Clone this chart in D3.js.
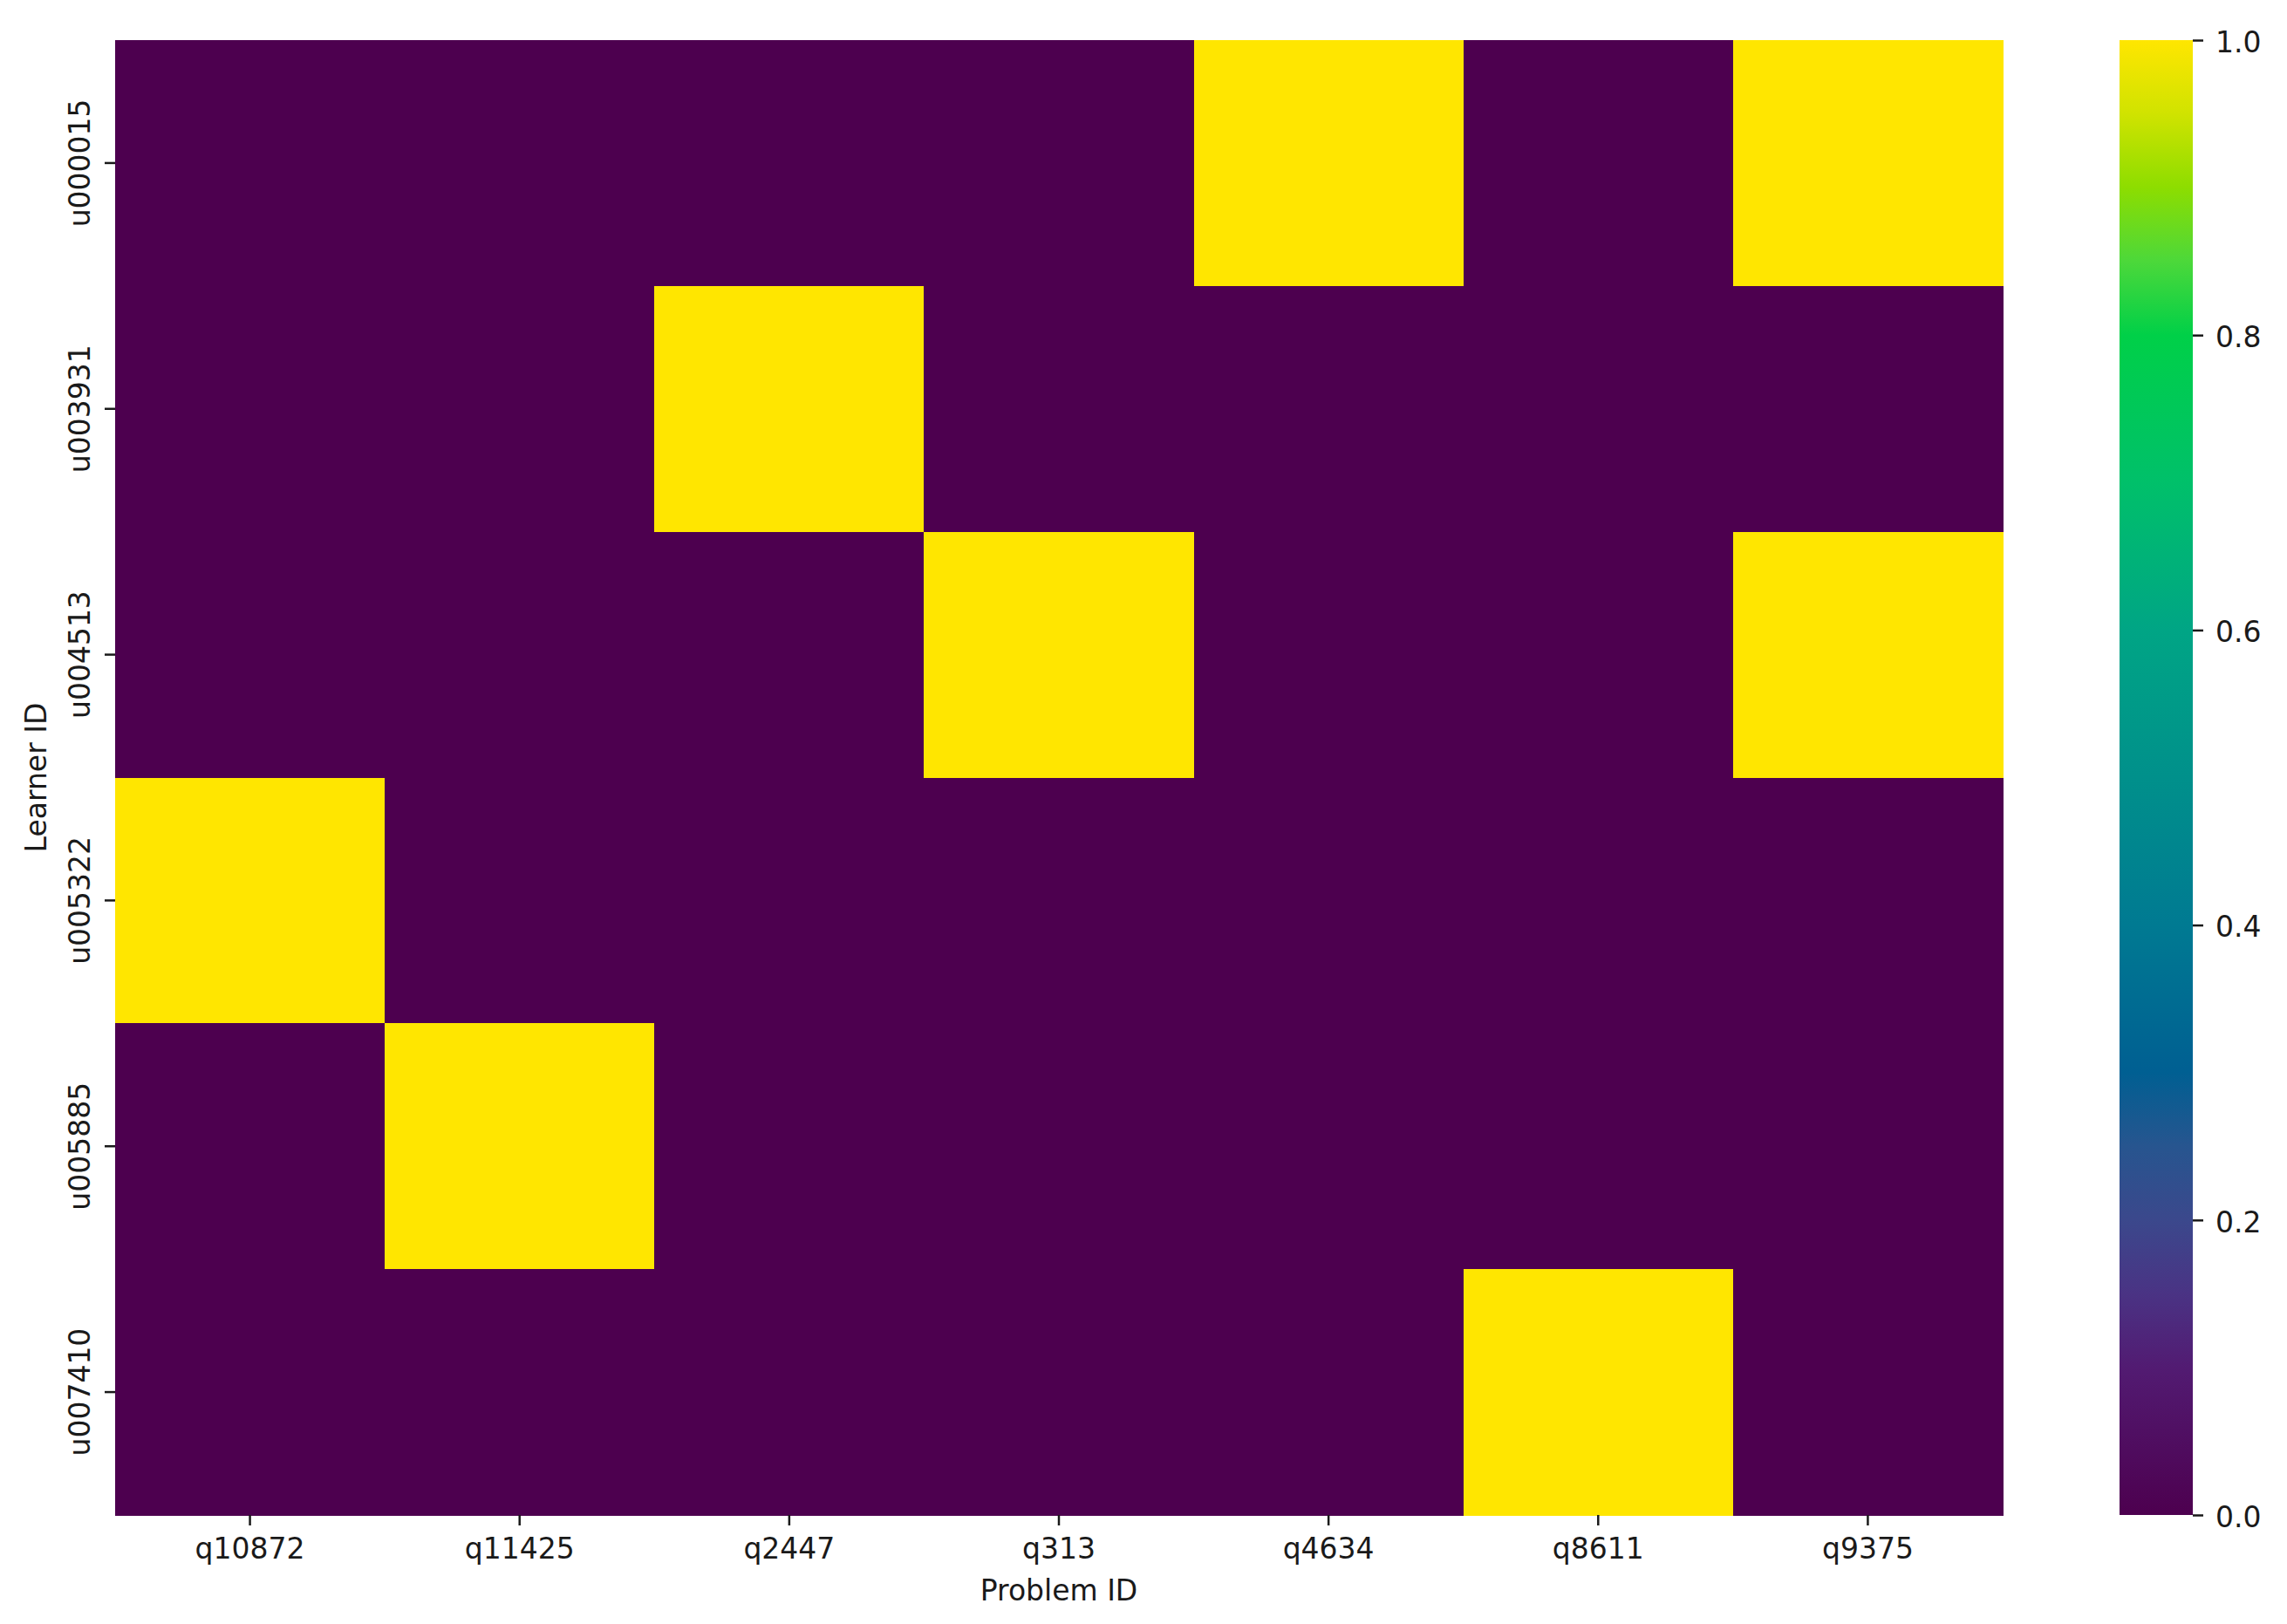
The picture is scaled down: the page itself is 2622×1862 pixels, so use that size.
<!DOCTYPE html>
<html>
<head>
<meta charset="utf-8">
<script src="https://cdn.jsdelivr.net/npm/d3@7"></script>
<style>
  html, body { margin: 0; padding: 0; background: #fff; }
  text { font-family: "DejaVu Sans", sans-serif; fill: #1a1a1a; }
</style>
</head>
<body>
<svg id="chart" width="2622" height="1862"></svg>
<script>
// ---- data ----
const learners = ["u000015", "u003931", "u004513", "u005322", "u005885", "u007410"];
const problems = ["q10872", "q11425", "q2447", "q313", "q4634", "q8611", "q9375"];
const values = [
  [0, 0, 0, 0, 1, 0, 1],
  [0, 0, 1, 0, 0, 0, 0],
  [0, 0, 0, 1, 0, 0, 1],
  [1, 0, 0, 0, 0, 0, 0],
  [0, 1, 0, 0, 0, 0, 0],
  [0, 0, 0, 0, 0, 1, 0]
];
const colorbarTicks = [0.0, 0.2, 0.4, 0.6, 0.8, 1.0];
const colorStopValues = [0.0, 0.1, 0.15, 0.2, 0.25, 0.3, 0.4, 0.5, 0.6, 0.7, 0.8, 0.85, 0.9, 0.95, 1.0];
const colorStopColors = ["#4d004f", "#521b72", "#4a3384", "#3b488c", "#27558f", "#005f92", "#007a92",
  "#00908b", "#00a585", "#00c06a", "#00d048", "#4cd83a", "#8ddd00", "#d0e300", "#ffe600"];

// ---- layout ----
const plot = { left: 132, right: 2296, top: 46, bottom: 1737 };
const cbar = { left: 2430, right: 2514 };
const fontSize = 33;

const svg = d3.select("#chart");

const x = d3.scaleBand().domain(problems).range([plot.left, plot.right]).padding(0);
const y = d3.scaleBand().domain(learners).range([plot.top, plot.bottom]).padding(0);
const color = d3.scaleLinear().domain(colorStopValues).range(colorStopColors).clamp(true);

const cells = [];
learners.forEach((l, i) => problems.forEach((p, j) => cells.push({ l, p, v: values[i][j] })));

svg.append("g").selectAll("rect").data(cells).join("rect")
  .attr("x", d => x(d.p))
  .attr("y", d => y(d.l))
  .attr("width", x.bandwidth() + 0.5)
  .attr("height", y.bandwidth() + 0.5)
  .attr("fill", d => color(d.v))
  .attr("shape-rendering", "crispEdges");

// x axis
const xAxis = d3.axisBottom(x).tickSize(12).tickPadding(12);
const gx = svg.append("g").attr("transform", `translate(0,${plot.bottom})`).call(xAxis);
gx.select(".domain").remove();
gx.selectAll(".tick line").attr("stroke", "#1a1a1a").attr("stroke-width", 2.5);
gx.selectAll(".tick text").attr("font-size", fontSize).attr("fill", "#1a1a1a")
  .attr("font-family", "DejaVu Sans").attr("dy", null).attr("y", 50);

// y axis
const yAxis = d3.axisLeft(y).tickSize(12).tickPadding(0);
const gy = svg.append("g").attr("transform", `translate(${plot.left},0)`).call(yAxis);
gy.select(".domain").remove();
gy.selectAll(".tick line").attr("stroke", "#1a1a1a").attr("stroke-width", 2.5);
gy.selectAll(".tick text")
  .attr("font-size", fontSize).attr("fill", "#1a1a1a").attr("font-family", "DejaVu Sans")
  .attr("x", null).attr("dy", null)
  .attr("text-anchor", "middle")
  .attr("transform", "translate(-29,0) rotate(-90)");

// axis labels
svg.append("text")
  .attr("x", (plot.left + plot.right) / 2).attr("y", 1835)
  .attr("text-anchor", "middle").attr("font-size", fontSize)
  .text("Problem ID");
svg.append("text")
  .attr("transform", `translate(53,${(plot.top + plot.bottom) / 2}) rotate(-90)`)
  .attr("text-anchor", "middle").attr("font-size", fontSize)
  .text("Learner ID");

// colorbar
const cy = d3.scaleLinear().domain([0, 1]).range([plot.bottom, plot.top]);
const defs = svg.append("defs");
const grad = defs.append("linearGradient").attr("id", "cbgrad")
  .attr("x1", 0).attr("y1", 1).attr("x2", 0).attr("y2", 0);
grad.selectAll("stop").data(colorStopValues).join("stop")
  .attr("offset", d => d)
  .attr("stop-color", d => color(d));
svg.append("rect")
  .attr("x", cbar.left).attr("y", cy(1))
  .attr("width", cbar.right - cbar.left).attr("height", cy(0) - cy(1))
  .attr("fill", "url(#cbgrad)");

const cAxis = d3.axisRight(cy).tickValues(colorbarTicks).tickFormat(d3.format(".1f"))
  .tickSize(12).tickPadding(14);
const gc = svg.append("g").attr("transform", `translate(${cbar.right},0)`).call(cAxis);
gc.select(".domain").remove();
gc.selectAll(".tick line").attr("stroke", "#1a1a1a").attr("stroke-width", 2.5);
gc.selectAll(".tick text").attr("font-size", fontSize).attr("fill", "#1a1a1a")
  .attr("font-family", "DejaVu Sans").attr("dy", "0.4em");
</script>
</body>
</html>
